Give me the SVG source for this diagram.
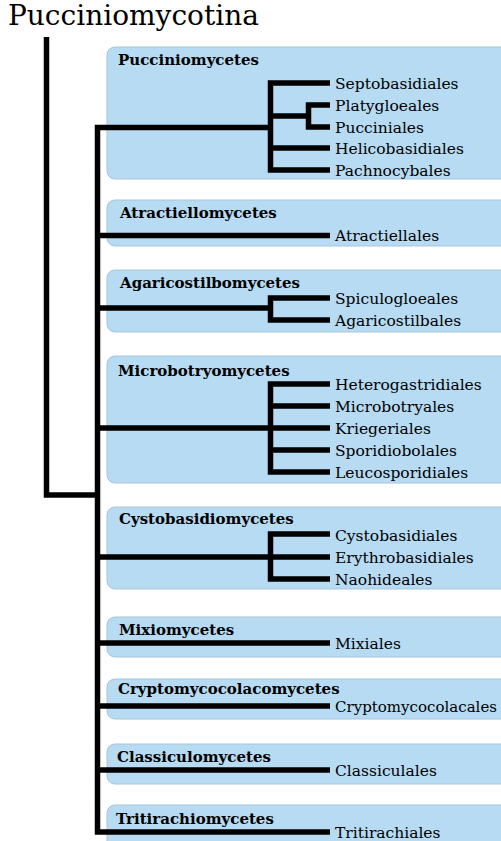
<svg xmlns="http://www.w3.org/2000/svg" width="501" height="841" viewBox="0 0 501 841">
<style>
.box{fill:#b6dbf3;stroke:#a9c5d8;stroke-width:1}
.cls{font-family:"DejaVu Serif","Liberation Serif",serif;font-weight:bold;font-size:15px;fill:#000}
.ord{font-family:"DejaVu Serif","Liberation Serif",serif;font-size:15.5px;fill:#000}
.title{font-family:"DejaVu Serif","Liberation Serif",serif;font-size:28px;fill:#000}
.ln{fill:none;stroke:#000;stroke-width:5.5;stroke-linejoin:miter;stroke-linecap:butt}
</style>
<rect width="501" height="841" fill="#fff"/>
<text class="title" x="8" y="25">Pucciniomycotina</text>
<g id="pucciniomycetes">
<rect class="box" x="107" y="47" width="410" height="132" rx="8"/>
<text class="cls" x="118" y="65">Pucciniomycetes</text>
<text class="ord" x="335" y="88.5">Septobasidiales</text>
<text class="ord" x="335" y="110.5">Platygloeales</text>
<text class="ord" x="335" y="132.5">Pucciniales</text>
<text class="ord" x="335" y="153.5">Helicobasidiales</text>
<text class="ord" x="335" y="175.5">Pachnocybales</text>
</g>
<g id="atractiellomycetes">
<rect class="box" x="107" y="200" width="410" height="46" rx="8"/>
<text class="cls" x="120" y="218">Atractiellomycetes</text>
<text class="ord" x="335" y="241">Atractiellales</text>
</g>
<g id="agaricostilbomycetes">
<rect class="box" x="107" y="270" width="410" height="62" rx="8"/>
<text class="cls" x="120" y="288">Agaricostilbomycetes</text>
<text class="ord" x="335" y="303.5">Spiculogloeales</text>
<text class="ord" x="335" y="325.5">Agaricostilbales</text>
</g>
<g id="microbotryomycetes">
<rect class="box" x="107" y="356" width="410" height="127" rx="8"/>
<text class="cls" x="118" y="376">Microbotryomycetes</text>
<text class="ord" x="335" y="389.5">Heterogastridiales</text>
<text class="ord" x="335" y="411.5">Microbotryales</text>
<text class="ord" x="335" y="433.5">Kriegeriales</text>
<text class="ord" x="335" y="455.5">Sporidiobolales</text>
<text class="ord" x="335" y="477.5">Leucosporidiales</text>
</g>
<g id="cystobasidiomycetes">
<rect class="box" x="107" y="507" width="410" height="82" rx="8"/>
<text class="cls" x="119" y="524">Cystobasidiomycetes</text>
<text class="ord" x="335" y="540.5">Cystobasidiales</text>
<text class="ord" x="335" y="562.5">Erythrobasidiales</text>
<text class="ord" x="335" y="584.5">Naohideales</text>
</g>
<g id="mixiomycetes">
<rect class="box" x="107" y="617" width="410" height="40" rx="8"/>
<text class="cls" x="119" y="635">Mixiomycetes</text>
<text class="ord" x="335" y="648.5">Mixiales</text>
</g>
<g id="cryptomycocolacomycetes">
<rect class="box" x="107" y="679" width="410" height="40" rx="8"/>
<text class="cls" x="118" y="694">Cryptomycocolacomycetes</text>
<text class="ord" x="335" y="711.5" textLength="162" lengthAdjust="spacingAndGlyphs">Cryptomycocolacales</text>
</g>
<g id="classiculomycetes">
<rect class="box" x="107" y="744" width="410" height="40" rx="8"/>
<text class="cls" x="117" y="762">Classiculomycetes</text>
<text class="ord" x="335" y="775.5">Classiculales</text>
</g>
<g id="tritirachiomycetes">
<rect class="box" x="107" y="805" width="410" height="50" rx="8"/>
<text class="cls" x="116" y="824">Tritirachiomycetes</text>
<text class="ord" x="335" y="838">Tritirachiales</text>
</g>
<g id="connectors" class="ln">
<path d="M46.5,37 V495 H97.5"/>
<path d="M270.5,127.5 H97.5 V832 H330"/>
<path d="M330,83 H270.5 V170 H330 M270.5,148 H330 M270.5,116 H308.5 M330,105 H308.5 V127 H330"/>
<path d="M97.5,235.5 H330"/>
<path d="M97.5,308 H270.5 M330,298 H270.5 V320 H330"/>
<path d="M97.5,428 H330 M330,384 H270.5 V472 H330 M270.5,406 H330 M270.5,450 H330"/>
<path d="M97.5,557 H330 M330,534 H270.5 V579 H330"/>
<path d="M97.5,643 H330"/>
<path d="M97.5,706 H330"/>
<path d="M97.5,770 H330"/>
</g>
</svg>
